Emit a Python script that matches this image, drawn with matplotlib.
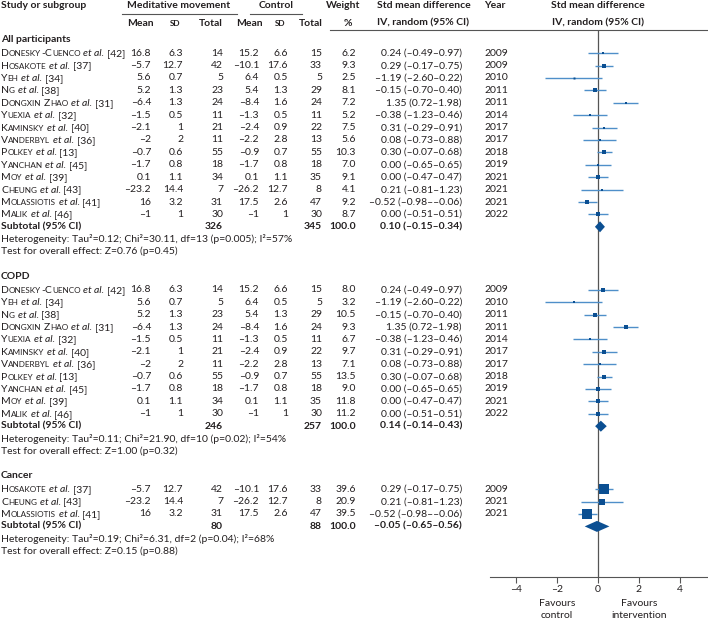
import numpy as np
import matplotlib
matplotlib.use('Agg')
import matplotlib.pyplot as plt
from matplotlib import font_manager as fm
from matplotlib.ft2font import FT2Font

plt.rcParams['font.family'] = ['Lato', 'DejaVu Sans']
plt.rcParams['axes.unicode_minus'] = False

# study level data (all participants)
names = ["Donesky-Cuenco", "Hosakote", "Yeh", "Ng", "Dongxin Zhao", "Yuexia", "Kaminsky",
         "Vanderbyl", "Polkey", "Yanchan", "Moy", "Cheung", "Molassiotis", "Malik"]
refs = [42, 37, 34, 38, 31, 32, 40, 36, 13, 45, 39, 43, 41, 46]
mm_mean = [16.8, -5.7, 5.6, 5.2, -6.4, -1.5, -2.1, -2, -0.7, -1.7, 0.1, -23.2, 16, -1]
mm_sd = [6.3, 12.7, 0.7, 1.3, 1.3, 0.5, 1, 2, 0.6, 0.8, 1.1, 14.4, 3.2, 1]
mm_n = [14, 42, 5, 23, 24, 11, 21, 11, 55, 18, 34, 7, 31, 30]
ct_mean = [15.2, -10.1, 6.4, 5.4, -8.4, -1.3, -2.4, -2.2, -0.9, -1.7, 0.1, -26.2, 17.5, -1]
ct_sd = [6.6, 17.6, 0.5, 1.3, 1.6, 0.5, 0.9, 2.8, 0.7, 0.8, 1.1, 12.7, 2.6, 1]
ct_n = [15, 33, 5, 29, 24, 11, 22, 13, 55, 18, 35, 8, 47, 30]
smd = [0.24, 0.29, -1.19, -0.15, 1.35, -0.38, 0.31, 0.08, 0.30, 0.00, 0.00, 0.21, -0.52, 0.00]
ci_lo = [-0.49, -0.17, -2.60, -0.70, 0.72, -1.23, -0.29, -0.73, -0.07, -0.65, -0.47, -0.81, -0.98, -0.51]
ci_hi = [0.97, 0.75, 0.22, 0.40, 1.98, 0.46, 0.91, 0.88, 0.68, 0.65, 0.47, 1.23, -0.06, 0.51]
years = [2009, 2009, 2010, 2011, 2011, 2014, 2017, 2017, 2018, 2019, 2021, 2021, 2021, 2022]

# subgroups
groups = ["All participants", "COPD", "Cancer"]
members = [list(range(14)), [0, 2, 3, 4, 5, 6, 7, 8, 9, 10, 13], [1, 11, 12]]
weights = [[6.2, 9.3, 2.5, 8.1, 7.2, 5.2, 7.5, 5.6, 10.3, 7.0, 9.1, 4.1, 9.2, 8.7],
           [8.0, 3.2, 10.5, 9.3, 6.7, 9.7, 7.1, 13.5, 9.0, 11.8, 11.2],
           [39.6, 20.9, 39.5]]
tot_mm = [326, 246, 80]
tot_ct = [345, 257, 88]
sub_smd = [0.10, 0.14, -0.05]
sub_lo = [-0.15, -0.14, -0.65]
sub_hi = [0.34, 0.43, 0.56]
het = ["Tau²=0.12; Chi²=30.11, df=13 (p=0.005); I²=57%",
       "Tau²=0.11; Chi²=21.90, df=10 (p=0.02); I²=54%",
       "Tau²=0.19; Chi²=6.31, df=2 (p=0.04); I²=68%"]
zed = ["Z=0.76 (p=0.45)", "Z=1.00 (p=0.32)", "Z=0.15 (p=0.88)"]

xticks = [-4, -2, 0, 2, 4]

TXT = '#231f20'
LINE = '#4f8fc9'
BOX = '#0b4f92'
FS = 7.5
SC = 5.9
DPI = 100

_fonts = {}


def adv(s, fs, style='normal'):
    # horizontal advance in pixels, used to chain small-caps pieces
    if style not in _fonts:
        _fonts[style] = FT2Font(fm.findfont(fm.FontProperties(family='Lato', style=style)))
    f = _fonts[style]
    f.set_size(fs, DPI)
    return sum(f.load_char(ord(c)).linearHoriAdvance for c in s) / 65536.0


def dash(s):
    return s.replace('-', '\u2013')


def num(v):
    return dash(f"{v:g}")


def ci_str(m, lo, hi):
    return dash(f"{m:.2f} ({lo:.2f}-{hi:.2f})")


def study_label(ax, x, y, name, ref):
    # small caps surname + italic et al.
    pieces = []
    for wi, word in enumerate(name.split(' ')):
        if wi > 0:
            pieces.append((' ', FS, 'normal'))
        run, big = '', None
        for ch in word:
            b = not ch.islower()
            if big is not None and b != big:
                pieces.append((run, FS if big else SC, 'normal'))
                run = ''
            run += ch.upper()
            big = b
        pieces.append((run, FS if big else SC, 'normal'))
    pieces += [(' ', FS, 'normal'), ('et al.', FS, 'italic'), (' ', FS, 'normal'), (f'[{ref}]', FS, 'normal')]
    for s, fs, st in pieces:
        if s.strip():
            ax.text(x, y + 3, s, fontsize=fs, fontstyle=st, va='baseline', ha='left', color=TXT)
        x += adv(s, fs, st)


fig = plt.figure(figsize=(7.08, 6.25), dpi=DPI)
ax = fig.add_axes([0, 0, 1, 1])
ax.set_xlim(0, 708)
ax.set_ylim(625, 0)
ax.axis('off')

# forest panel shares the pixel row coordinates
y_top, y_axis = 30, 577
axf = fig.add_axes([490 / 708, (625 - y_axis) / 625, 218 / 708, (y_axis - y_top) / 625])
axf.set_facecolor('none')
axf.set_xlim(-5.29, 5.39)
axf.set_ylim(y_axis, y_top)
for sp in ['top', 'left', 'right']:
    axf.spines[sp].set_visible(False)
axf.spines['bottom'].set_color('#555555')
axf.spines['bottom'].set_linewidth(0.8)
axf.set_yticks([])
axf.set_xticks(xticks)
axf.set_xticklabels([dash(str(t)) for t in xticks])
axf.tick_params(axis='x', length=4, width=0.8, color='#555555', labelsize=FS, labelcolor=TXT, pad=2)
axf.axvline(0, color='#555555', lw=0.9)
axf.text(-2, 604, 'Favours', ha='center', va='center', fontsize=FS, color=TXT)
axf.text(-2, 616, 'control', ha='center', va='center', fontsize=FS, color=TXT)
axf.text(2, 604, 'Favours', ha='center', va='center', fontsize=FS, color=TXT)
axf.text(2, 616, 'intervention', ha='center', va='center', fontsize=FS, color=TXT)

# column anchors (right edges)
cx = dict(mm_mean=151, mm_sd=183, mm_n=223, ct_mean=259, ct_sd=288, ct_n=322, w=356, ci=462, yr=484)

# headers
ax.text(1, 6, 'Study or subgroup', fontsize=FS, fontweight='bold', va='center', color=TXT)
ax.text(179, 6, 'Meditative movement', fontsize=FS, fontweight='bold', va='center', ha='center', color=TXT)
ax.text(276, 6, 'Control', fontsize=FS, fontweight='bold', va='center', ha='center', color=TXT)
ax.text(343, 6, 'Weight', fontsize=FS, fontweight='bold', va='center', ha='center', color=TXT)
ax.text(377, 6, 'Std mean difference', fontsize=FS, fontweight='bold', va='center', color=TXT)
ax.text(377, 23, 'IV, random (95% CI)', fontsize=FS, fontweight='bold', va='center', color=TXT)
ax.text(484, 6, 'Year', fontsize=FS, fontweight='bold', va='center', color=TXT)
axf.text(0, 6, 'Std mean difference', fontsize=FS, fontweight='bold', va='center', ha='center', color=TXT)
axf.text(0, 23, 'IV, random (95% CI)', fontsize=FS, fontweight='bold', va='center', ha='center', color=TXT)
ax.plot([122, 237], [14, 14], color='#555555', lw=0.8)
ax.plot([250, 302], [14, 14], color='#555555', lw=0.8)
for key, mean_x, sd_x, n_x in [('mm', 154, 175, 223), ('ct', 263, 280, 323)]:
    ax.text(mean_x, 23, 'Mean', fontsize=FS, fontweight='bold', va='center', ha='right', color=TXT)
    ax.text(sd_x, 23, 'SD', fontsize=SC, fontweight='bold', va='center', ha='center', color=TXT)
    ax.text(n_x, 23, 'Total', fontsize=FS, fontweight='bold', va='center', ha='right', color=TXT)
ax.text(348, 23, '%', fontsize=FS, fontweight='bold', va='center', ha='center', color=TXT)
ax.plot([330, 708], [30, 30], color='#555555', lw=0.8)

# body rows
step, head_gap, group_gap = 12.4, 13.2, 25.0
y = 40.0
for g in range(len(groups)):
    ax.text(1, y, groups[g], fontsize=FS, fontweight='bold', va='center', color=TXT)
    y += head_gap
    for k, i in enumerate(members[g]):
        study_label(ax, 1, y, names[i], refs[i])
        for col, val in [('mm_mean', num(mm_mean[i])), ('mm_sd', num(mm_sd[i])), ('mm_n', str(mm_n[i])),
                         ('ct_mean', num(ct_mean[i])), ('ct_sd', num(ct_sd[i])), ('ct_n', str(ct_n[i])),
                         ('w', f"{weights[g][k]:.1f}"), ('ci', ci_str(smd[i], ci_lo[i], ci_hi[i]))]:
            ax.text(cx[col], y, val, fontsize=FS, va='center', ha='right', color=TXT)
        ax.text(cx['yr'], y, str(years[i]), fontsize=FS, va='center', ha='left', color=TXT)
        axf.plot([ci_lo[i], ci_hi[i]], [y, y], color=LINE, lw=1.0, solid_capstyle='butt', zorder=2)
        side = 1.5 + 0.19 * weights[g][k]
        axf.plot(smd[i], y, marker='s', ms=side * 0.72, color=BOX, mew=0, zorder=3)
        y += step
    ax.text(1, y, 'Subtotal (95% CI)', fontsize=FS, fontweight='bold', va='center', color=TXT)
    ax.text(cx['mm_n'], y, str(tot_mm[g]), fontsize=FS, fontweight='bold', va='center', ha='right', color=TXT)
    ax.text(cx['ct_n'], y, str(tot_ct[g]), fontsize=FS, fontweight='bold', va='center', ha='right', color=TXT)
    ax.text(cx['w'], y, '100.0', fontsize=FS, fontweight='bold', va='center', ha='right', color=TXT)
    ax.text(cx['ci'], y, ci_str(sub_smd[g], sub_lo[g], sub_hi[g]), fontsize=FS, fontweight='bold',
            va='center', ha='right', color=TXT)
    axf.fill([sub_lo[g], sub_smd[g], sub_hi[g], sub_smd[g]], [y, y - 5.5, y, y + 5.5],
             color=BOX, lw=0, zorder=3)
    y += step
    ax.text(1, y, 'Heterogeneity: ' + het[g], fontsize=FS, va='center', color=TXT)
    y += step
    ax.text(1, y, 'Test for overall effect: ' + zed[g], fontsize=FS, va='center', color=TXT)
    y += group_gap

fig.savefig('out.png', dpi=DPI)
